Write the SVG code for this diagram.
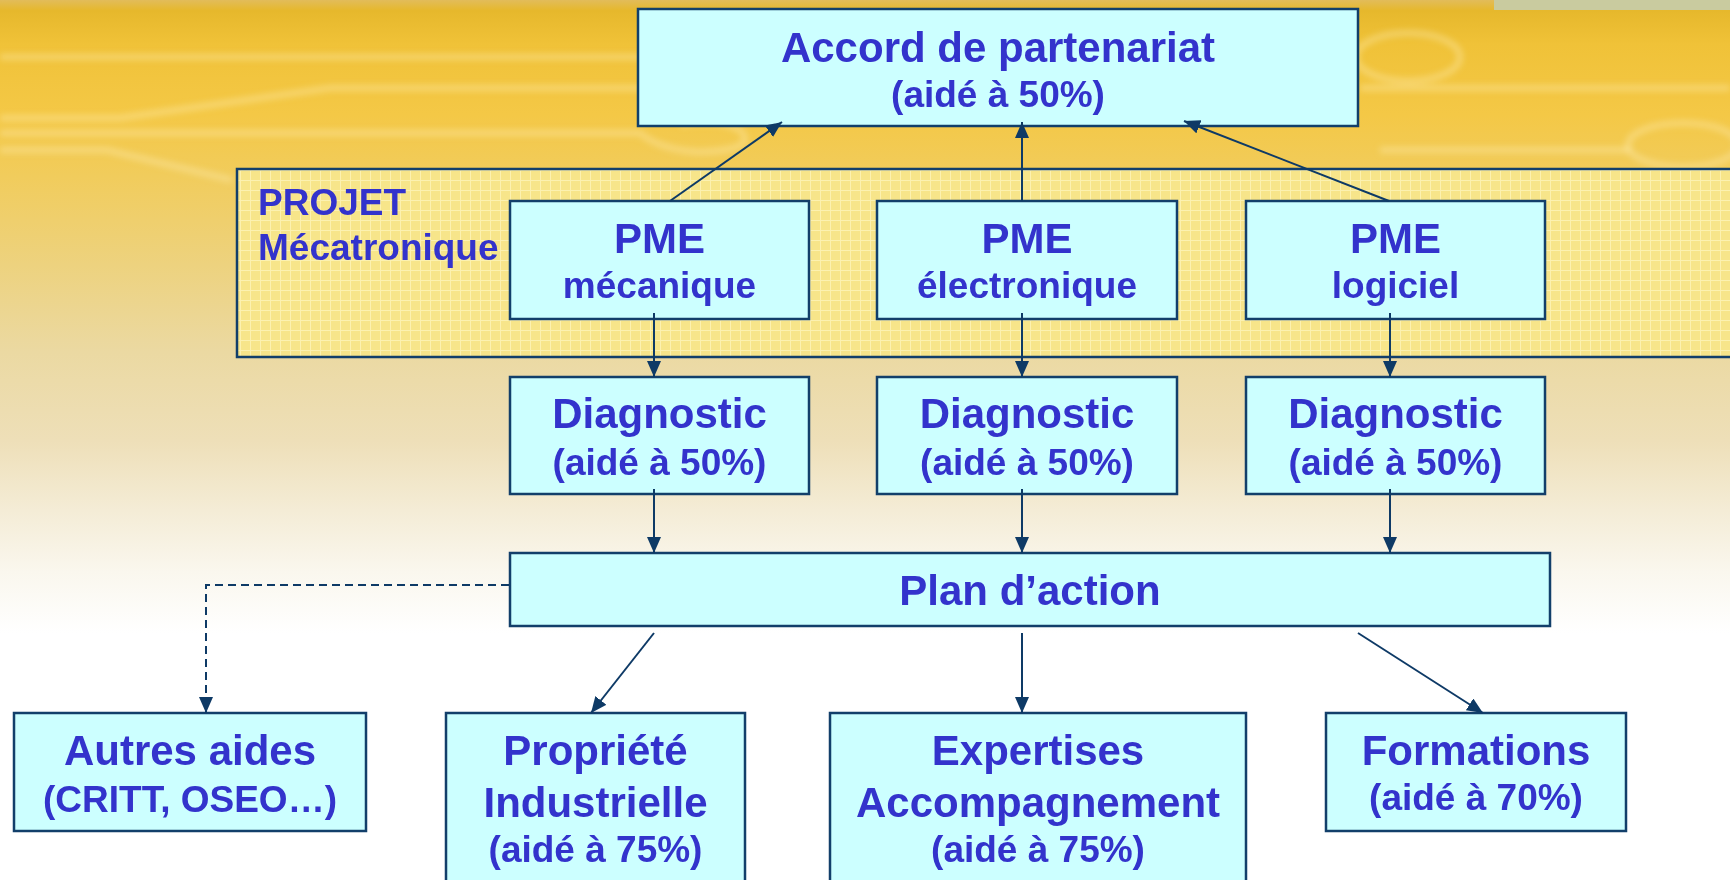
<svg xmlns="http://www.w3.org/2000/svg" width="1730" height="880" viewBox="0 0 1730 880">
<defs>
  <linearGradient id="bg" x1="0" y1="0" x2="0" y2="1">
    <stop offset="0" stop-color="#E2BC5A"/>
    <stop offset="0.012" stop-color="#E6B82C"/>
    <stop offset="0.05" stop-color="#F0C238"/>
    <stop offset="0.13" stop-color="#F4C846"/>
    <stop offset="0.2" stop-color="#F1CC5C"/>
    <stop offset="0.3" stop-color="#EDD27E"/>
    <stop offset="0.4" stop-color="#EBD9A2"/>
    <stop offset="0.5" stop-color="#EEDFB8"/>
    <stop offset="0.58" stop-color="#F4ECD6"/>
    <stop offset="0.65" stop-color="#FAF7EE"/>
    <stop offset="0.72" stop-color="#FFFFFF"/>
    <stop offset="1" stop-color="#FFFFFF"/>
  </linearGradient>
  <pattern id="grid" width="10" height="10" patternUnits="userSpaceOnUse">
    <rect width="10" height="10" fill="#F7E58A"/>
    <path d="M0 0.5H10M0.5 0V10" stroke="#FCF1B0" stroke-width="1" fill="none"/>
  </pattern>
  <filter id="soft" filterUnits="userSpaceOnUse" x="-20" y="-20" width="1770" height="400">
    <feGaussianBlur stdDeviation="3"/>
  </filter>
  <marker id="arr" viewBox="0 0 16 14" refX="16" refY="7" markerWidth="16" markerHeight="14" markerUnits="userSpaceOnUse" orient="auto">
    <path d="M0 0L16 7L0 14Z" fill="#0E3A66"/>
  </marker>
  <style>
    .box{fill:#CCFFFF;stroke:#123F6A;stroke-width:2.5}
    .t{font-family:"Liberation Sans",Arial,sans-serif;font-weight:bold;fill:#3333CC;text-anchor:middle}
    .big{font-size:42px}
    .small{font-size:37px}
    .con{stroke:#0E3A66;stroke-width:2;fill:none;marker-end:url(#arr)}
    .dash{stroke-dasharray:8 5}
    .trace{stroke:#FFF0B8;stroke-width:6;fill:none;opacity:0.4}
  </style>
</defs>

<g id="background">
  <rect x="0" y="0" width="1730" height="880" fill="url(#bg)"/>
  <rect x="1494" y="0" width="236" height="10" fill="#C9CB9F"/>
  <g filter="url(#soft)">
    <path class="trace" d="M0 57H660"/>
    <path class="trace" d="M0 118H120L330 88H660"/>
    <path class="trace" d="M0 133H640Q660 150 700 152Q760 150 740 130Q720 118 680 124"/>
    <path class="trace" d="M0 150H107L232 180"/>
    <ellipse class="trace" cx="1408" cy="57" rx="52" ry="24"/>
    <path class="trace" d="M1360 88H1730"/>
    <path class="trace" d="M1380 150H1630"/>
    <ellipse class="trace" cx="1683" cy="145" rx="55" ry="22"/>
  </g>
</g>

<g id="projet">
  <rect x="237" y="169" width="1500" height="188" fill="url(#grid)" stroke="#123F6A" stroke-width="2.5"/>
  <text class="t small" x="258" y="215" style="text-anchor:start">PROJET</text>
  <text class="t small" x="258" y="260" style="text-anchor:start">Mécatronique</text>
</g>

<g id="accord">
  <rect class="box" x="638" y="9" width="720" height="117"/>
  <text class="t big" x="998" y="62">Accord de partenariat</text>
  <text class="t small" x="998" y="107">(aidé à 50%)</text>
</g>

<g id="pme-mecanique">
  <rect class="box" x="510" y="201" width="299" height="118"/>
  <text class="t big" x="659.5" y="253">PME</text>
  <text class="t small" x="659.5" y="298">mécanique</text>
</g>
<g id="pme-electronique">
  <rect class="box" x="877" y="201" width="300" height="118"/>
  <text class="t big" x="1027" y="253">PME</text>
  <text class="t small" x="1027" y="298">électronique</text>
</g>
<g id="pme-logiciel">
  <rect class="box" x="1246" y="201" width="299" height="118"/>
  <text class="t big" x="1395.5" y="253">PME</text>
  <text class="t small" x="1395.5" y="298">logiciel</text>
</g>

<g id="diag-mecanique">
  <rect class="box" x="510" y="377" width="299" height="117"/>
  <text class="t big" x="659.5" y="428">Diagnostic</text>
  <text class="t small" x="659.5" y="475">(aidé à 50%)</text>
</g>
<g id="diag-electronique">
  <rect class="box" x="877" y="377" width="300" height="117"/>
  <text class="t big" x="1027" y="428">Diagnostic</text>
  <text class="t small" x="1027" y="475">(aidé à 50%)</text>
</g>
<g id="diag-logiciel">
  <rect class="box" x="1246" y="377" width="299" height="117"/>
  <text class="t big" x="1395.5" y="428">Diagnostic</text>
  <text class="t small" x="1395.5" y="475">(aidé à 50%)</text>
</g>

<g id="plan">
  <rect class="box" x="510" y="553" width="1040" height="73"/>
  <text class="t big" x="1030" y="605">Plan d’action</text>
</g>

<g id="autres">
  <rect class="box" x="14" y="713" width="352" height="118"/>
  <text class="t big" x="190" y="765">Autres aides</text>
  <text class="t small" x="190" y="812">(CRITT, OSEO…)</text>
</g>
<g id="propriete">
  <rect class="box" x="446" y="713" width="299" height="180"/>
  <text class="t big" x="595.5" y="765">Propriété</text>
  <text class="t big" x="595.5" y="817">Industrielle</text>
  <text class="t small" x="595.5" y="862">(aidé à 75%)</text>
</g>
<g id="expertises">
  <rect class="box" x="830" y="713" width="416" height="180"/>
  <text class="t big" x="1038" y="765">Expertises</text>
  <text class="t big" x="1038" y="817">Accompagnement</text>
  <text class="t small" x="1038" y="862">(aidé à 75%)</text>
</g>
<g id="formations">
  <rect class="box" x="1326" y="713" width="300" height="118"/>
  <text class="t big" x="1476" y="765">Formations</text>
  <text class="t small" x="1476" y="810">(aidé à 70%)</text>
</g>

<g id="connectors">
  <line class="con" x1="670" y1="201" x2="782" y2="122"/>
  <line class="con" x1="1022" y1="201" x2="1022" y2="122"/>
  <line class="con" x1="1389" y1="201" x2="1184" y2="121"/>
  <line class="con" x1="654" y1="313" x2="654" y2="377"/>
  <line class="con" x1="1022" y1="313" x2="1022" y2="377"/>
  <line class="con" x1="1390" y1="313" x2="1390" y2="377"/>
  <line class="con" x1="654" y1="489" x2="654" y2="553"/>
  <line class="con" x1="1022" y1="489" x2="1022" y2="553"/>
  <line class="con" x1="1390" y1="489" x2="1390" y2="553"/>
  <path class="con dash" d="M509 585H206V713"/>
  <line class="con" x1="654" y1="633" x2="591" y2="713"/>
  <line class="con" x1="1022" y1="633" x2="1022" y2="713"/>
  <line class="con" x1="1358" y1="633" x2="1483" y2="713"/>
</g>
</svg>
